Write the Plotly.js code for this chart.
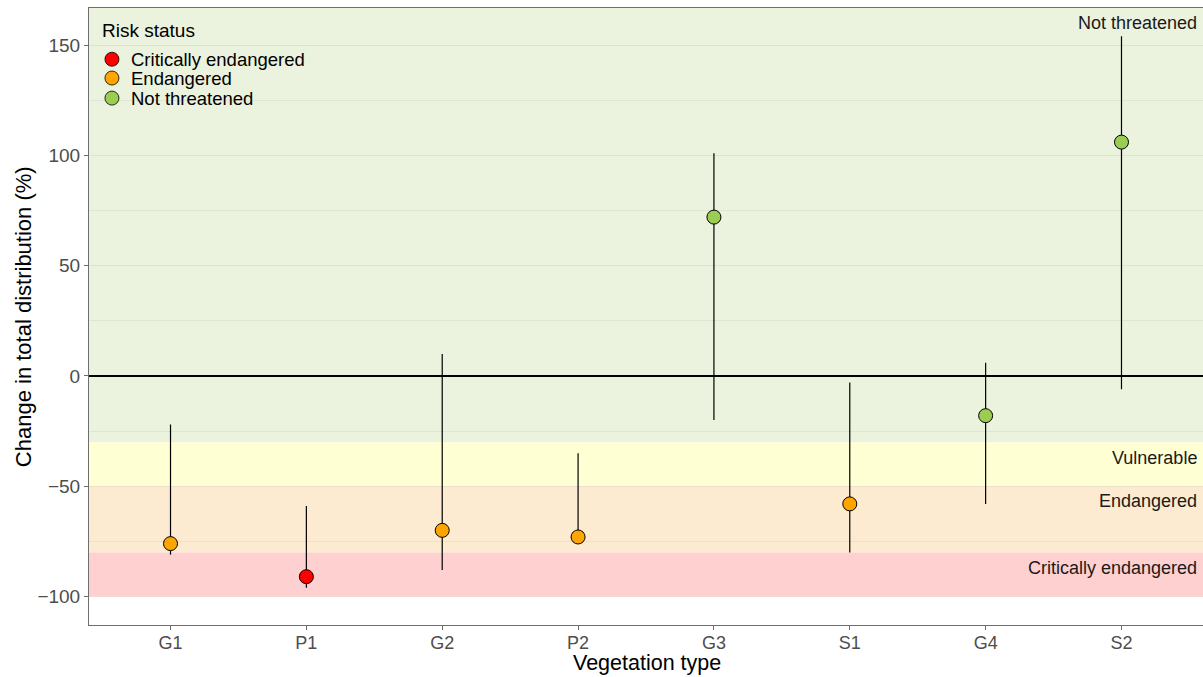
<!DOCTYPE html>
<html>
<head>
<meta charset="utf-8">
<script src="https://cdn.plot.ly/plotly-3.0.1.min.js"></script>
<style>html,body{margin:0;padding:0;background:#fff;}#chart{width:1203px;height:677px;}</style>
</head>
<body>
<div id="chart"></div>
<script>
// Data
const vegTypes = ["G1", "P1", "G2", "P2", "G3", "S1", "G4", "S2"];
const riskStatus = ["Endangered", "Critically endangered", "Endangered", "Endangered", "Not threatened", "Endangered", "Not threatened", "Not threatened"];
const changeMid = [-76, -91, -70, -73, 72, -58, -18, 106];
const changeLow = [-81, -96, -88, -73.5, -20, -80, -58, -6];
const changeHigh = [-22, -59, 10, -35, 101, -3, 6, 154];

const statusOrder = ["Critically endangered", "Endangered", "Not threatened"];
const statusColors = {"Critically endangered": "#ff0000", "Endangered": "#ffa500", "Not threatened": "#9acd52"};
const legendTitle = "Risk status";
const xTitle = "Vegetation type";
const yTitle = "Change in total distribution (%)";

// Threshold bands
const bandNames = ["Not threatened", "Vulnerable", "Endangered", "Critically endangered"];
const bandLow = [-30, -50, -80, -100];
const bandHigh = [170, -30, -50, -80];
const bandColors = ["#ebf2de", "#ffffd4", "#fdebd1", "#ffd0d0"];
const bandLabelY = [160, -37, -56.5, -87];

const FONT = "Liberation Sans, Arial, sans-serif";

const traces = statusOrder.map(st => {
  const idx = vegTypes.map((v, i) => i).filter(i => riskStatus[i] === st);
  return {
    type: "scatter",
    mode: "markers",
    name: st,
    x: idx.map(i => vegTypes[i]),
    y: idx.map(i => changeMid[i]),
    error_y: {
      type: "data",
      symmetric: false,
      array: idx.map(i => changeHigh[i] - changeMid[i]),
      arrayminus: idx.map(i => changeMid[i] - changeLow[i]),
      width: 0,
      color: "#000000",
      thickness: 1.2
    },
    marker: {color: statusColors[st], size: 14, line: {color: "#000000", width: 1}},
    hoverinfo: "skip",
    showlegend: false
  };
});

const shapes = bandNames.map((b, i) => ({
  type: "rect", xref: "paper", yref: "y", x0: 0, x1: 1,
  y0: bandLow[i], y1: bandHigh[i],
  fillcolor: bandColors[i], line: {width: 0}, layer: "below"
}));

const annotations = bandNames.map((b, i) => ({
  text: b, xref: "paper", yref: "y", x: 0.996, y: bandLabelY[i],
  xanchor: "right", yanchor: "middle", showarrow: false,
  font: {family: FONT, size: 18, color: "#1a1a1a"}
}));

// Custom legend (compact like the reference)
const legX = 0.0206, legTextX = 0.0359;
const legY = [0.917, 0.8865, 0.854];
annotations.push({
  text: legendTitle, xref: "paper", yref: "paper", x: 0.0099, y: 0.9643,
  xanchor: "left", yanchor: "middle", showarrow: false,
  font: {family: FONT, size: 19, color: "#000"}
});
statusOrder.forEach((st, k) => {
  shapes.push({
    type: "circle", xref: "paper", yref: "paper",
    xsizemode: "pixel", ysizemode: "pixel",
    xanchor: legX, yanchor: legY[k], x0: -7, x1: 7, y0: -7, y1: 7,
    fillcolor: statusColors[st], line: {color: "#000", width: 0.8}, layer: "above"
  });
  annotations.push({
    text: st, xref: "paper", yref: "paper", x: legTextX, y: legY[k],
    xanchor: "left", yanchor: "middle", showarrow: false,
    font: {family: FONT, size: 18.5, color: "#000"}
  });
});

// Axis titles as annotations for precise placement
annotations.push({
  text: xTitle, xref: "paper", yref: "paper", x: 0.501, y: -0.0843,
  xanchor: "center", yanchor: "bottom", showarrow: false,
  font: {family: FONT, size: 21.5, color: "#000"}
});
annotations.push({
  text: yTitle, xref: "paper", yref: "paper", x: -0.0592, y: 0.499,
  xanchor: "center", yanchor: "middle", textangle: -90, showarrow: false,
  font: {family: FONT, size: 22, color: "#000"}
});

const layout = {
  width: 1203, height: 677,
  margin: {l: 89, r: 0, t: 8, b: 52},
  paper_bgcolor: "#ffffff",
  plot_bgcolor: "#ffffff",
  font: {family: FONT},
  showlegend: false,
  xaxis: {
    type: "category",
    categoryorder: "array", categoryarray: vegTypes,
    range: [-0.6, 7.6],
    showgrid: false, zeroline: false,
    showline: true, mirror: true, linecolor: "#6e6e6e", linewidth: 1,
    ticks: "outside", ticklen: 4, tickcolor: "#6e6e6e",
    ticklabelstandoff: -3,
    tickfont: {family: FONT, size: 18, color: "#4d4d4d"}
  },
  yaxis: {
    range: [-112.9, 166.8],
    tickvals: [-100, -50, 0, 50, 100, 150],
    ticktext: ["\u2212100", "\u221250", "0", "50", "100", "150"],
    showgrid: true, gridcolor: "rgba(0,0,0,0.06)", gridwidth: 1,
    minor: {tickvals: [-75, -25, 25, 75, 125], showgrid: true, gridcolor: "rgba(0,0,0,0.05)", gridwidth: 1},
    zeroline: true, zerolinecolor: "#000000", zerolinewidth: 1.2,
    showline: true, mirror: true, linecolor: "#6e6e6e", linewidth: 1,
    ticks: "outside", ticklen: 4, tickcolor: "#6e6e6e",
    tickfont: {family: FONT, size: 19, color: "#4d4d4d"}
  },
  shapes: shapes,
  annotations: annotations,
  hovermode: false
};

Plotly.newPlot("chart", traces, layout, {displayModeBar: false, staticPlot: true});
</script>
</body>
</html>
